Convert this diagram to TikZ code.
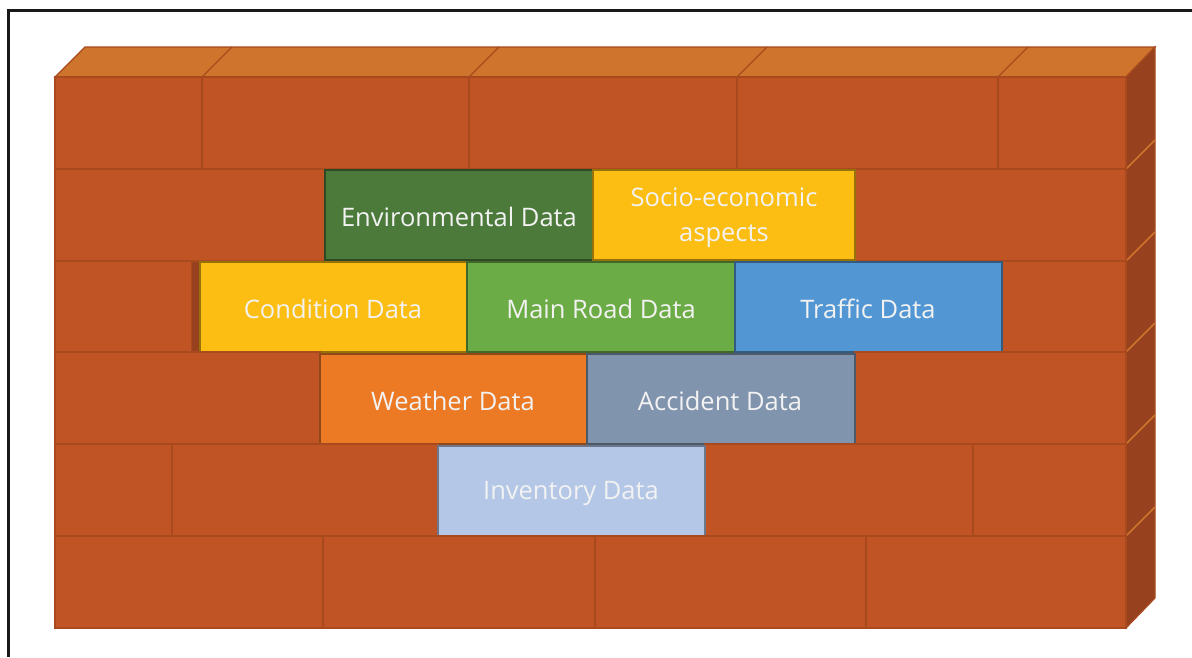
\documentclass[tikz,border=0pt]{standalone}
\usepackage{fontspec}
\setmainfont{Open Sans}
\usepackage{tikz}

\definecolor{brickfront}{RGB}{193,84,37}
\definecolor{bricktop}{RGB}{207,116,45}
\definecolor{brickside}{RGB}{151,65,31}
\definecolor{brickline}{RGB}{168,74,30}
\definecolor{envgreen}{RGB}{76,122,59}
\definecolor{gold}{RGB}{252,190,18}
\definecolor{roadgreen}{RGB}{108,172,70}
\definecolor{trafficblue}{RGB}{82,151,211}
\definecolor{weatherorange}{RGB}{236,122,36}
\definecolor{accidentgrey}{RGB}{128,148,174}
\definecolor{inventoryblue}{RGB}{180,199,231}

\begin{document}
\begin{tikzpicture}[x=1pt,y=-1pt,
	brick/.style={draw=brickline,fill=brickfront,line width=1.2pt},
	databrick/.style={fill=#1,draw=#1!60!black,line width=1.2pt},
	datalabel/.style={text=white!95!black,align=center,font=\fontsize{25.5}{35}\selectfont}]
	\useasboundingbox (0,0) rectangle (1192,657);

	% frame
	\draw[line width=3pt,black!90] (8,657) -- (8,10) -- (1192,10);

	% top and right faces
	\path[draw=brickline,fill=bricktop,line width=1.2pt] (55,77) -- (85,47) -- (1155,47) -- (1126,77) -- cycle;
	\path[draw=brickline,fill=brickside,line width=1.2pt] (1126,77) -- (1155,47) -- (1155,598) -- (1126,628) -- cycle;
	\draw[brickline,line width=1.2pt] (202,77) -- (232,47);
	\draw[brickline,line width=1.2pt] (469,77) -- (499,47);
	\draw[brickline,line width=1.2pt] (737,77) -- (767,47);
	\draw[brickline,line width=1.2pt] (998,77) -- (1028,47);
	\draw[bricktop,line width=1.5pt] (1126,169) -- (1155,140);
	\draw[bricktop,line width=1.5pt] (1126,261) -- (1155,232);
	\draw[bricktop,line width=1.5pt] (1126,352) -- (1155,323);
	\draw[bricktop,line width=1.5pt] (1126,444) -- (1155,415);
	\draw[bricktop,line width=1.5pt] (1126,536) -- (1155,507);

	% row 1
	\path[brick] (55,77) rectangle (202,169);
	\path[brick] (202,77) rectangle (469,169);
	\path[brick] (469,77) rectangle (737,169);
	\path[brick] (737,77) rectangle (998,169);
	\path[brick] (998,77) rectangle (1126,169);

	% row 2
	\path[brick] (55,169) rectangle (325,261);
	\path[brick] (855,169) rectangle (1126,261);
	\path[databrick=envgreen] (325,170) rectangle (593,260);
	\path[databrick=gold] (593,170) rectangle (855,260);

	% row 3
	\path[brick] (55,261) rectangle (192,352);
	\path[brick] (1002,261) rectangle (1126,352);
	\path[fill=brickside] (192,262) rectangle (200,352);
	\path[databrick=gold] (200,262) rectangle (467,352);
	\path[databrick=roadgreen] (467,262) rectangle (735,352);
	\path[databrick=trafficblue] (735,262) rectangle (1002,352);

	% row 4
	\path[brick] (55,352) rectangle (320,444);
	\path[brick] (855,352) rectangle (1126,444);
	\path[databrick=weatherorange] (320,354) rectangle (587,444);
	\path[databrick=accidentgrey] (587,354) rectangle (855,444);

	% row 5
	\path[brick] (55,444) rectangle (172,536);
	\path[brick] (172,444) rectangle (438,536);
	\path[brick] (705,444) rectangle (973,536);
	\path[brick] (973,444) rectangle (1126,536);
	\path[databrick=inventoryblue] (438,446) rectangle (705,536);

	% row 6
	\path[brick] (55,536) rectangle (323,628);
	\path[brick] (323,536) rectangle (595,628);
	\path[brick] (595,536) rectangle (866,628);
	\path[brick] (866,536) rectangle (1126,628);

	\node[datalabel] (env) at (459,217) {Environmental Data};
	\node[datalabel] (socio) at (724,218) {Socio-economic\\aspects};
	\node[datalabel] (cond) at (333,309) {Condition Data};
	\node[datalabel] (road) at (601,309) {Main Road Data};
	\node[datalabel] (traffic) at (868,309) {Traffic Data};
	\node[datalabel] (weather) at (453,401) {Weather Data};
	\node[datalabel] (accident) at (720,401) {Accident Data};
	\node[datalabel] (inventory) at (571,493) {Inventory Data};
\end{tikzpicture}
\end{document}
